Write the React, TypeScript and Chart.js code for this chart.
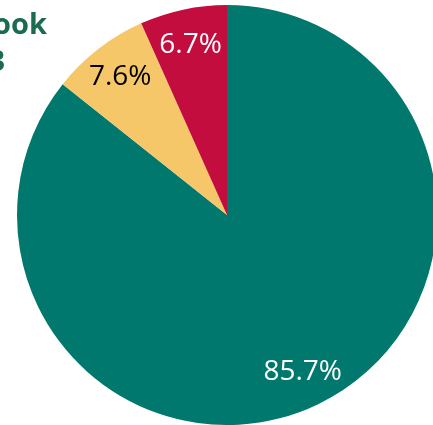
import React, { useEffect, useRef } from "react";
import { Chart, registerables } from "chart.js";

Chart.register(...registerables);

const categories = ["Teal", "Yellow", "Red"];
const values = [85.7, 7.6, 6.7];
const labelsText = ["85.7%", "7.6%", "6.7%"];
const colors = ["#00786e", "#f6c768", "#c30d3f"];
const labelColors = ["#ffffff", "#000000", "#ffffff"];
const titleLines = ["Facebook", "2013"];

const labelPlugin = {
  id: "sliceLabels",
  afterDatasetsDraw(chart: any) {
    const ctx = chart.ctx;
    const meta = chart.getDatasetMeta(0);
    ctx.save();
    ctx.font = "28px 'Open Sans'";
    ctx.textAlign = "center";
    ctx.textBaseline = "middle";
    meta.data.forEach((arc: any, i: number) => {
      const p = arc.getProps(["x", "y", "startAngle", "endAngle", "outerRadius"], true);
      const mid = (p.startAngle + p.endAngle) / 2;
      const r = p.outerRadius * 0.83;
      ctx.fillStyle = labelColors[i];
      ctx.fillText(labelsText[i], p.x + Math.cos(mid) * r, p.y + Math.sin(mid) * r);
    });
    ctx.fillStyle = "#1b6b50";
    ctx.font = "bold 29px 'Open Sans'";
    ctx.textAlign = "right";
    ctx.textBaseline = "alphabetic";
    ctx.fillText(titleLines[0], 47, 34);
    ctx.fillText(titleLines[1], 5, 71);
    ctx.restore();
  },
};

export default function App() {
  const ref = useRef<HTMLCanvasElement>(null);
  useEffect(() => {
    const chart = new Chart(ref.current!, {
      type: "pie",
      data: {
        labels: categories,
        datasets: [
          {
            data: values,
            backgroundColor: colors,
            borderWidth: 0,
          },
        ],
      },
      options: {
        responsive: false,
        animation: false,
        layout: { padding: { left: 17, right: 17, top: 5, bottom: 0 } },
        plugins: { legend: { display: false }, tooltip: { enabled: false } },
      },
      plugins: [labelPlugin],
    });
    return () => chart.destroy();
  }, []);
  return (
    <div
      style={{
        position: "fixed",
        left: 0,
        top: 0,
        width: 433,
        height: 425,
        overflow: "hidden",
        background: "#fff",
      }}
    >
      <canvas ref={ref} width={454} height={425} style={{ display: "block" }} />
    </div>
  );
}
